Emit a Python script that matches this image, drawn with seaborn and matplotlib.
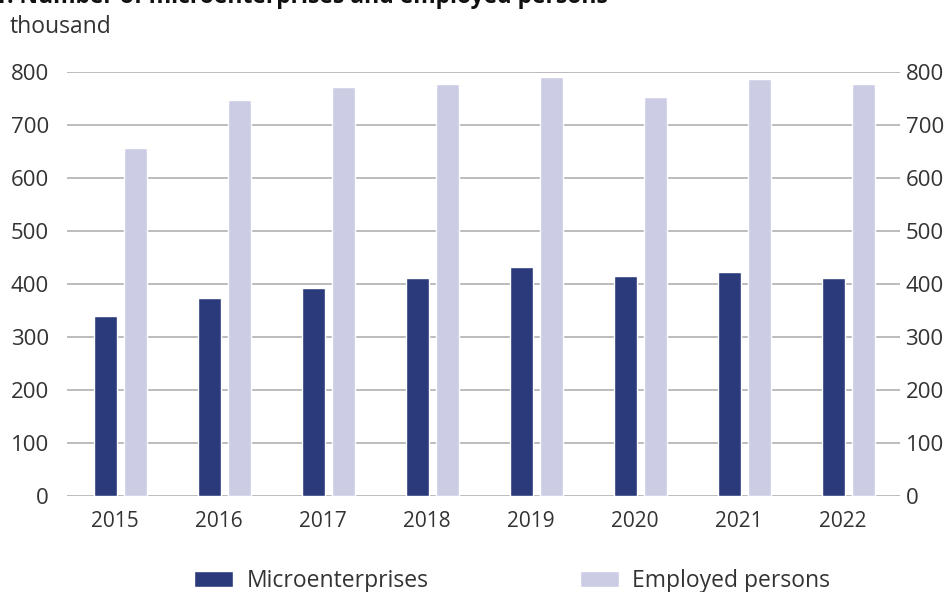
import matplotlib
matplotlib.use("Agg")
import matplotlib.pyplot as plt
import seaborn as sns
import pandas as pd
import numpy as np

years = ["2015", "2016", "2017", "2018", "2019", "2020", "2021", "2022"]
microenterprises = [340, 373, 392, 412, 433, 415, 423, 412]
employed = [656, 748, 772, 777, 790, 752, 787, 777]
series_names = ["Microenterprises", "Employed persons"]
yticks = [0, 100, 200, 300, 400, 500, 600, 700, 800]

df = pd.DataFrame({
    "year": years * 2,
    "value": microenterprises + employed,
    "series": [series_names[0]] * len(years) + [series_names[1]] * len(years),
})

sns.set_theme(style="white")
plt.rcParams["font.family"] = ["Open Sans", "DejaVu Sans"]
text_color = "#333333"

fig = plt.figure(figsize=(9.44, 5.92), dpi=100)
ax = fig.add_axes([67 / 944, 1 - 496 / 592, 833 / 944, 424 / 592])

palette = {series_names[0]: "#2b3a7a", series_names[1]: "#cccde4"}
sns.barplot(data=df, x="year", y="value", hue="series", palette=palette,
            width=0.575, gap=0.22, ax=ax, saturation=1, legend=True, zorder=3)

ax.set_ylim(0, 800)
ax.set_xlim(-0.517, 7.493)
ax.set_yticks(yticks)
ax.set_xticks(np.arange(len(years)) - 0.057, labels=years)
ax.grid(axis="y", color="#b0b0b0", linewidth=1.2, zorder=0)
ax.set_axisbelow(True)
for s in ax.spines.values():
    s.set_visible(False)
ax.set_xlabel("")
ax.set_ylabel("")
ax.tick_params(axis="x", length=0, labelsize=15, labelcolor=text_color, pad=11)
ax.tick_params(axis="y", length=0, labelsize=16, labelcolor=text_color, pad=13)

ax2 = ax.twinx()
ax2.set_ylim(0, 800)
ax2.set_yticks(yticks)
for s in ax2.spines.values():
    s.set_visible(False)
ax2.tick_params(axis="y", length=0, labelsize=16, labelcolor=text_color, pad=4)
ax2.grid(False)

handles, labels = ax.get_legend_handles_labels()
ax.legend_.remove()
fig.legend(handles, labels, loc="center", bbox_to_anchor=(512 / 944, 1 - 581 / 592),
           ncol=2, frameon=False, fontsize=16.5, handlelength=1.7, handleheight=0.74,
           columnspacing=6.6, handletextpad=0.57, labelcolor=text_color,
           borderpad=0, borderaxespad=0)

fig.text(10 / 944, 1 - 33 / 592, "thousand", fontsize=16.5, color=text_color, va="baseline")
fig.text(-6 / 944, 1 - 3 / 592, "1. Number of microenterprises and employed persons",
         fontsize=16.5, fontweight="bold", color="#111111", va="baseline")

fig.savefig("out.png", dpi=100)
